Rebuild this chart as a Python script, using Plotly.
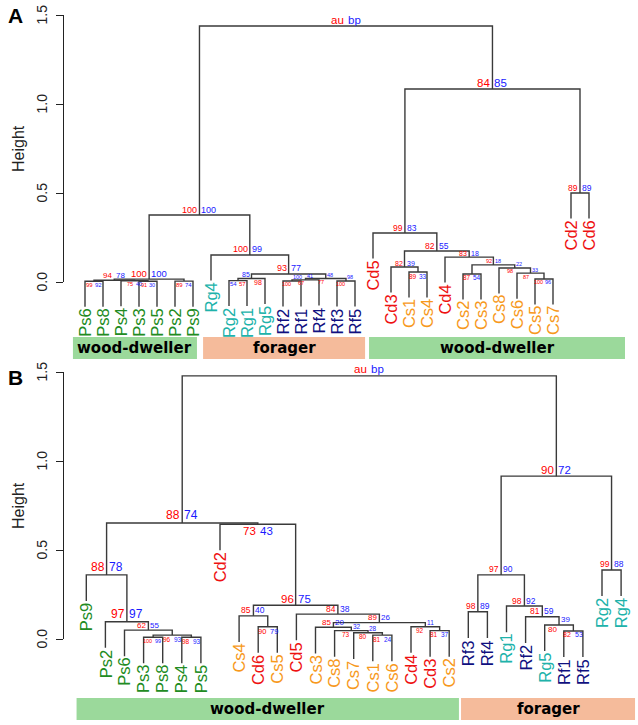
import plotly.graph_objects as go

W, H = 638, 725
FONT = "Liberation Sans, Arial, Helvetica, sans-serif"
BOLD = "DejaVu Sans, Verdana, sans-serif"

# ---------------- data ----------------
leaf_prefix_colors = {"Ps": "#228b22", "Rg": "#20b2aa", "Rf": "#101080",
                      "Cd": "#ee1111", "Cs": "#f7991c"}
AU_COLOR = "#ff0000"
BP_COLOR = "#1a1aff"

# Panel A
A_leaves = ["Ps6", "Ps8", "Ps4", "Ps3", "Ps5", "Ps2", "Ps9", "Rg4", "Rg2", "Rg1",
            "Rg5", "Rf2", "Rf1", "Rf4", "Rf3", "Rf5", "Cd5", "Cd3", "Cs1", "Cs4",
            "Cd4", "Cs2", "Cs3", "Cs8", "Cs6", "Cs5", "Cs7", "Cd2", "Cd6"]
A_merges = [("p68", "Ps6", "Ps8"), ("p35", "Ps3", "Ps5"), ("p435", "Ps4", "p35"),
            ("p29", "Ps2", "Ps9"), ("pL", "p68", "p435"), ("pAll", "pL", "p29"),
            ("g21", "Rg2", "Rg1"), ("g", "g21", "Rg5"), ("f21", "Rf2", "Rf1"),
            ("f214", "f21", "Rf4"), ("f35", "Rf3", "Rf5"), ("f", "f214", "f35"),
            ("gf", "g", "f"), ("r", "Rg4", "gf"), ("L", "pAll", "r"),
            ("c14", "Cs1", "Cs4"), ("d3c", "Cd3", "c14"), ("c23", "Cs2", "Cs3"),
            ("c57", "Cs5", "Cs7"), ("c657", "Cs6", "c57"), ("c8", "Cs8", "c657"),
            ("c2x", "c23", "c8"), ("d4c", "Cd4", "c2x"), ("dd", "d3c", "d4c"),
            ("d5", "Cd5", "dd"), ("d26", "Cd2", "Cd6"), ("R", "d5", "d26"),
            ("root", "L", "R")]
A_heights = [0.004, 0.004, 0.007, 0.005, 0.010, 0.016,
             0.008, 0.020, 0.006, 0.012, 0.006, 0.020,
             0.045, 0.152, 0.376,
             0.056, 0.084, 0.045, 0.017, 0.050, 0.079,
             0.096, 0.140, 0.174, 0.275, 0.500, 1.084, 1.438]
A_au = ["99", "91", "75", "89", "94", "100", "57", "98", "100", "67", "100", "77",
        "93", "100", "100", "89", "82", "87", "100", "87", "98", "92", "83", "82",
        "99", "89", "84", "au"]
A_bp = ["92", "30", "40", "74", "78", "100", "54", "85", "100", "41", "98", "48",
        "77", "99", "100", "33", "39", "54", "96", "33", "22", "18", "18", "55",
        "83", "89", "85", "bp"]
A_group_names = ["wood-dweller", "forager", "wood-dweller"]
A_group_first = [1, 8, 17]
A_group_last = [7, 16, 29]

# Panel B
B_leaves = ["Ps9", "Ps2", "Ps6", "Ps3", "Ps8", "Ps4", "Ps5", "Cd2", "Cs4", "Cd6",
            "Cs5", "Cd5", "Cs3", "Cs8", "Cs7", "Cs1", "Cs6", "Cd4", "Cd3", "Cs2",
            "Rf3", "Rf4", "Rg1", "Rf2", "Rg5", "Rf1", "Rf5", "Rg2", "Rg4"]
B_merges = [("p38", "Ps3", "Ps8"), ("p45", "Ps4", "Ps5"), ("p3845", "p38", "p45"),
            ("p6", "Ps6", "p3845"), ("p2", "Ps2", "p6"), ("p9", "Ps9", "p2"),
            ("c4", "Cd6", "Cs5"), ("c46", "Cs4", "c4"), ("c16", "Cs1", "Cs6"),
            ("c716", "Cs7", "c16"), ("c8x", "Cs8", "c716"), ("c3x", "Cs3", "c8x"),
            ("d32", "Cd3", "Cs2"), ("d4", "Cd4", "d32"), ("cx", "c3x", "d4"),
            ("d5", "Cd5", "cx"), ("m", "c46", "d5"), ("d2", "Cd2", "m"),
            ("L", "p9", "d2"), ("f15", "Rf1", "Rf5"), ("g5f", "Rg5", "f15"),
            ("f2", "Rf2", "g5f"), ("g1", "Rg1", "f2"), ("f34", "Rf3", "Rf4"),
            ("F", "f34", "g1"), ("g24", "Rg2", "Rg4"), ("FR", "F", "g24"),
            ("root", "L", "FR")]
B_heights = [0.010, 0.010, 0.022, 0.050, 0.097, 0.360,
             0.069, 0.130, 0.022, 0.035, 0.047, 0.066,
             0.047, 0.069, 0.092, 0.140, 0.190, 0.645, 0.652,
             0.045, 0.079, 0.125, 0.185, 0.153, 0.360, 0.388, 0.915, 1.478]
B_au = ["100", "98", "96", "62", "97", "88", "90", "85", "81", "80", "73", "85",
        "81", "92", "89", "84", "96", "73", "88", "82", "80", "81", "98", "98",
        "97", "99", "90", "au"]
B_bp = ["99", "93", "93", "55", "97", "78", "79", "40", "24", "28", "32", "20",
        "37", "11", "26", "38", "75", "43", "74", "53", "39", "59", "92", "89",
        "90", "88", "72", "bp"]
B_group_names = ["wood-dweller", "forager"]
B_group_first = [1, 21]
B_group_last = [20, 29]

Y_TICKS = [0.0, 0.5, 1.0, 1.5]
Y_TICK_TEXT = ["0.0", "0.5", "1.0", "1.5"]
Y_TITLE = "Height"

# ---------------- styles ----------------
# (font size, au placement, bp placement)
# placement: a=above line, b=below line; optional 2nd char flips the side (r/l)
A_label_style = [(6, "b", "b"), (5.5, "b", "b"), (5.5, "b", "b"), (6, "b", "b"),
                 (8, "a", "a"), (9.5, "a", "a"),
                 (6, "br", "bl"), (7, "br", "al"), (5.5, "b", "a"), (5.5, "b", "a"),
                 (5.5, "b", "a"), (5.5, "b", "a"),
                 (9, "a", "a"), (9, "a", "a"), (9, "a", "a"),
                 (6.5, "b", "b"), (7, "a", "a"), (6.5, "b", "b"), (5.5, "b", "b"),
                 (5.5, "b", "a"), (5.5, "b", "a"), (5.5, "a", "a"), (7, "a", "a"),
                 (8.5, "a", "a"), (8.5, "a", "a"), (8.5, "a", "a"), (11.5, "a", "a"),
                 (11.5, "a", "a")]
B_label_style = [(5.5, "b", "b"), (6.5, "b", "b"), (6.5, "b", "b"), (8, "a", "a"),
                 (12, "a", "a"), (12, "a", "a"),
                 (7.5, "b", "b"), (8.5, "a", "a"), (6.5, "b", "b"), (6.5, "b", "a"),
                 (6.5, "b", "a"), (8, "a", "a"),
                 (6.5, "b", "b"), (6.5, "b", "a"), (8, "a", "a"), (8.5, "a", "a"),
                 (11.5, "a", "a"), (11.5, "b", "b"), (12, "a", "a"),
                 (7, "b", "b"), (8, "b", "a"), (8.5, "a", "a"), (8.5, "a", "a"),
                 (8.5, "a", "a"), (8.5, "a", "a"), (8.5, "a", "a"), (11.5, "a", "a"),
                 (11.5, "a", "a")]
A_bar_pad = [(-0.67, 0.22), (-0.44, 0.56), (-0.22, 2.0)]
B_bar_pad = [(-0.51, 0.51), (-0.38, 0.73)]
bar_colors = {"wood-dweller": "#9bd99b", "forager": "#f5bb9b"}
AXIS_COLOR = "#222222"
TICKLABEL_X_PX = 41.5
TITLE_X_PX = 18.5

# pixel geometry of the two panels
PANELS = [
    dict(name="A", leaves=A_leaves, merges=A_merges, heights=A_heights, au=A_au, bp=A_bp,
         gnames=A_group_names, gfirst=A_group_first, glast=A_group_last,
         style=A_label_style, barpad=A_bar_pad, bar_y=(-0.309, -0.433),
         leaf1_px=85.0, step_px=18.0, y0_px=282.0, unit_px=178.0,
         yr=(-0.44, 1.55), xa="x", ya="y", yt="y3", letter_px=(15.5, 15)),
    dict(name="B", leaves=B_leaves, merges=B_merges, heights=B_heights, au=B_au, bp=B_bp,
         gnames=B_group_names, gfirst=B_group_first, glast=B_group_last,
         style=B_label_style, barpad=B_bar_pad, bar_y=(-0.332, -0.455),
         leaf1_px=86.3, step_px=19.1, y0_px=639.0, unit_px=178.0,
         yr=(-0.48, 1.54), xa="x2", ya="y2", yt="y4", letter_px=(15.5, 377)),
]
AXIS_LEFT_PX = 64.0

fig = go.Figure()
annotations = []
shapes = []
layout_axes = {}

for k, P in enumerate(PANELS):
    leaves = P["leaves"]
    pos = {nm: i + 1 for i, nm in enumerate(leaves)}
    hh = {}
    maxh, minh = max(P["heights"]), min(P["heights"])
    hang = 0.1 * (maxh - minh)
    xs, ys = [], []
    leaf_bottom = {}
    node_xy = []
    for (nid, l, r), ht in zip(P["merges"], P["heights"]):
        xl, xr = pos[l], pos[r]
        if l in hh:
            yl = hh[l]
        else:
            yl = ht - hang
            leaf_bottom[l] = yl
        if r in hh:
            yr = hh[r]
        else:
            yr = ht - hang
            leaf_bottom[r] = yr
        xs += [xl, xl, xr, xr, None]
        ys += [yl, ht, ht, yr, None]
        pos[nid] = (xl + xr) / 2.0
        hh[nid] = ht
        node_xy.append((pos[nid], ht))

    fig.add_trace(go.Scatter(x=xs, y=ys, mode="lines", xaxis=P["xa"], yaxis=P["ya"],
                             line=dict(color="#3a3a3a", width=1.4), hoverinfo="skip",
                             showlegend=False))
    # empty trace to carry the visible height axis
    fig.add_trace(go.Scatter(x=[None], y=[None], xaxis=P["xa"], yaxis=P["yt"],
                             mode="markers", showlegend=False, hoverinfo="skip"))

    # au / bp labels
    for (nx, ny), au, bp, (fs, pa, pb) in zip(node_xy, P["au"], P["bp"], P["style"]):
        for txt, col, default_side, place in ((au, AU_COLOR, "right", pa),
                                              (bp, BP_COLOR, "left", pb)):
            side = default_side
            if len(place) > 1:
                side = "left" if place[1] == "r" else "right"
            gap = 0.4 if fs < 7 else 1.0
            annotations.append(dict(
                x=nx, y=ny, xref=P["xa"], yref=P["ya"], text=txt, showarrow=False,
                xanchor=side, yanchor="bottom" if place[0] == "a" else "top",
                xshift=-gap if side == "right" else gap,
                yshift=-0.5 if place[0] == "a" else 0.5,
                borderpad=0, font=dict(family=FONT, size=fs, color=col)))

    # leaf labels
    for nm in leaves:
        annotations.append(dict(
            x=pos[nm], y=leaf_bottom[nm], xref=P["xa"], yref=P["ya"], text=nm,
            showarrow=False, textangle=-90, xanchor="center", yanchor="top",
            yshift=-1, borderpad=0,
            font=dict(family=FONT, size=16.5, color=leaf_prefix_colors[nm[:2]])))

    # group bars
    y_top, y_bot = P["bar_y"]
    for gname, g0, g1, (p0, p1) in zip(P["gnames"], P["gfirst"], P["glast"], P["barpad"]):
        x0, x1 = g0 + p0, g1 + p1
        shapes.append(dict(type="rect", xref=P["xa"], yref=P["ya"], x0=x0, x1=x1,
                           y0=y_bot, y1=y_top, fillcolor=bar_colors[gname],
                           line=dict(width=0), layer="below"))
        annotations.append(dict(x=(x0 + x1) / 2, y=(y_top + y_bot) / 2, xref=P["xa"],
                                yref=P["ya"], text="<b>" + gname + "</b>", showarrow=False,
                                xanchor="center", yanchor="middle",
                                font=dict(family=BOLD, size=15, color="black")))

    # panel letter
    lx, ly = P["letter_px"]
    annotations.append(dict(x=lx / W, y=1 - ly / H, xref="paper", yref="paper",
                            text="<b>" + P["name"] + "</b>", showarrow=False,
                            xanchor="center", yanchor="middle",
                            font=dict(family=FONT, size=21, color="black")))

    # tick labels and axis title (rotated, R style)
    for tv, tt in zip(Y_TICKS, Y_TICK_TEXT):
        annotations.append(dict(x=TICKLABEL_X_PX / W, y=tv, xref="paper", yref=P["yt"],
                                text=tt, showarrow=False, textangle=-90,
                                xanchor="center", yanchor="middle", borderpad=0,
                                font=dict(family=FONT, size=14, color=AXIS_COLOR)))
    annotations.append(dict(x=TITLE_X_PX / W, y=(Y_TICKS[0] + Y_TICKS[-1]) / 2,
                            xref="paper", yref=P["yt"], text=Y_TITLE, showarrow=False,
                            textangle=-90, xanchor="center", yanchor="middle",
                            font=dict(family=FONT, size=16, color=AXIS_COLOR)))

    # axes geometry
    x_lo = 1 - (P["leaf1_px"] - AXIS_LEFT_PX) / P["step_px"]
    x_hi = 1 + (W - P["leaf1_px"]) / P["step_px"]
    def ypx(v, P=P):
        return P["y0_px"] - P["unit_px"] * v
    ylo, yhi = P["yr"]
    xkey = "xaxis" if P["xa"] == "x" else "xaxis" + P["xa"][1:]
    ykey = "yaxis" if P["ya"] == "y" else "yaxis" + P["ya"][1:]
    tkey = "yaxis" + P["yt"][1:]
    layout_axes[xkey] = dict(domain=[AXIS_LEFT_PX / W, 1], range=[x_lo, x_hi],
                             visible=False, fixedrange=True)
    layout_axes[ykey] = dict(domain=[1 - ypx(ylo) / H, 1 - ypx(yhi) / H],
                             range=[ylo, yhi], visible=False, anchor=P["xa"])
    layout_axes[tkey] = dict(domain=[1 - ypx(0) / H, 1 - ypx(1.5) / H],
                             range=[Y_TICKS[0], Y_TICKS[-1]],
                             anchor=P["xa"], side="left", showline=True, linecolor=AXIS_COLOR,
                             linewidth=1, ticks="outside", ticklen=7, tickcolor=AXIS_COLOR,
                             tickvals=Y_TICKS, showticklabels=False,
                             showgrid=False, zeroline=False, automargin=False)

fig.update_layout(width=W, height=H, margin=dict(l=0, r=0, t=0, b=0),
                  paper_bgcolor="white", plot_bgcolor="rgba(0,0,0,0)",
                  showlegend=False, annotations=annotations, shapes=shapes,
                  **layout_axes)
fig.write_html("out.html", config={"displayModeBar": False},
               post_script="document.body.style.margin='0';document.body.style.overflow='hidden';")
